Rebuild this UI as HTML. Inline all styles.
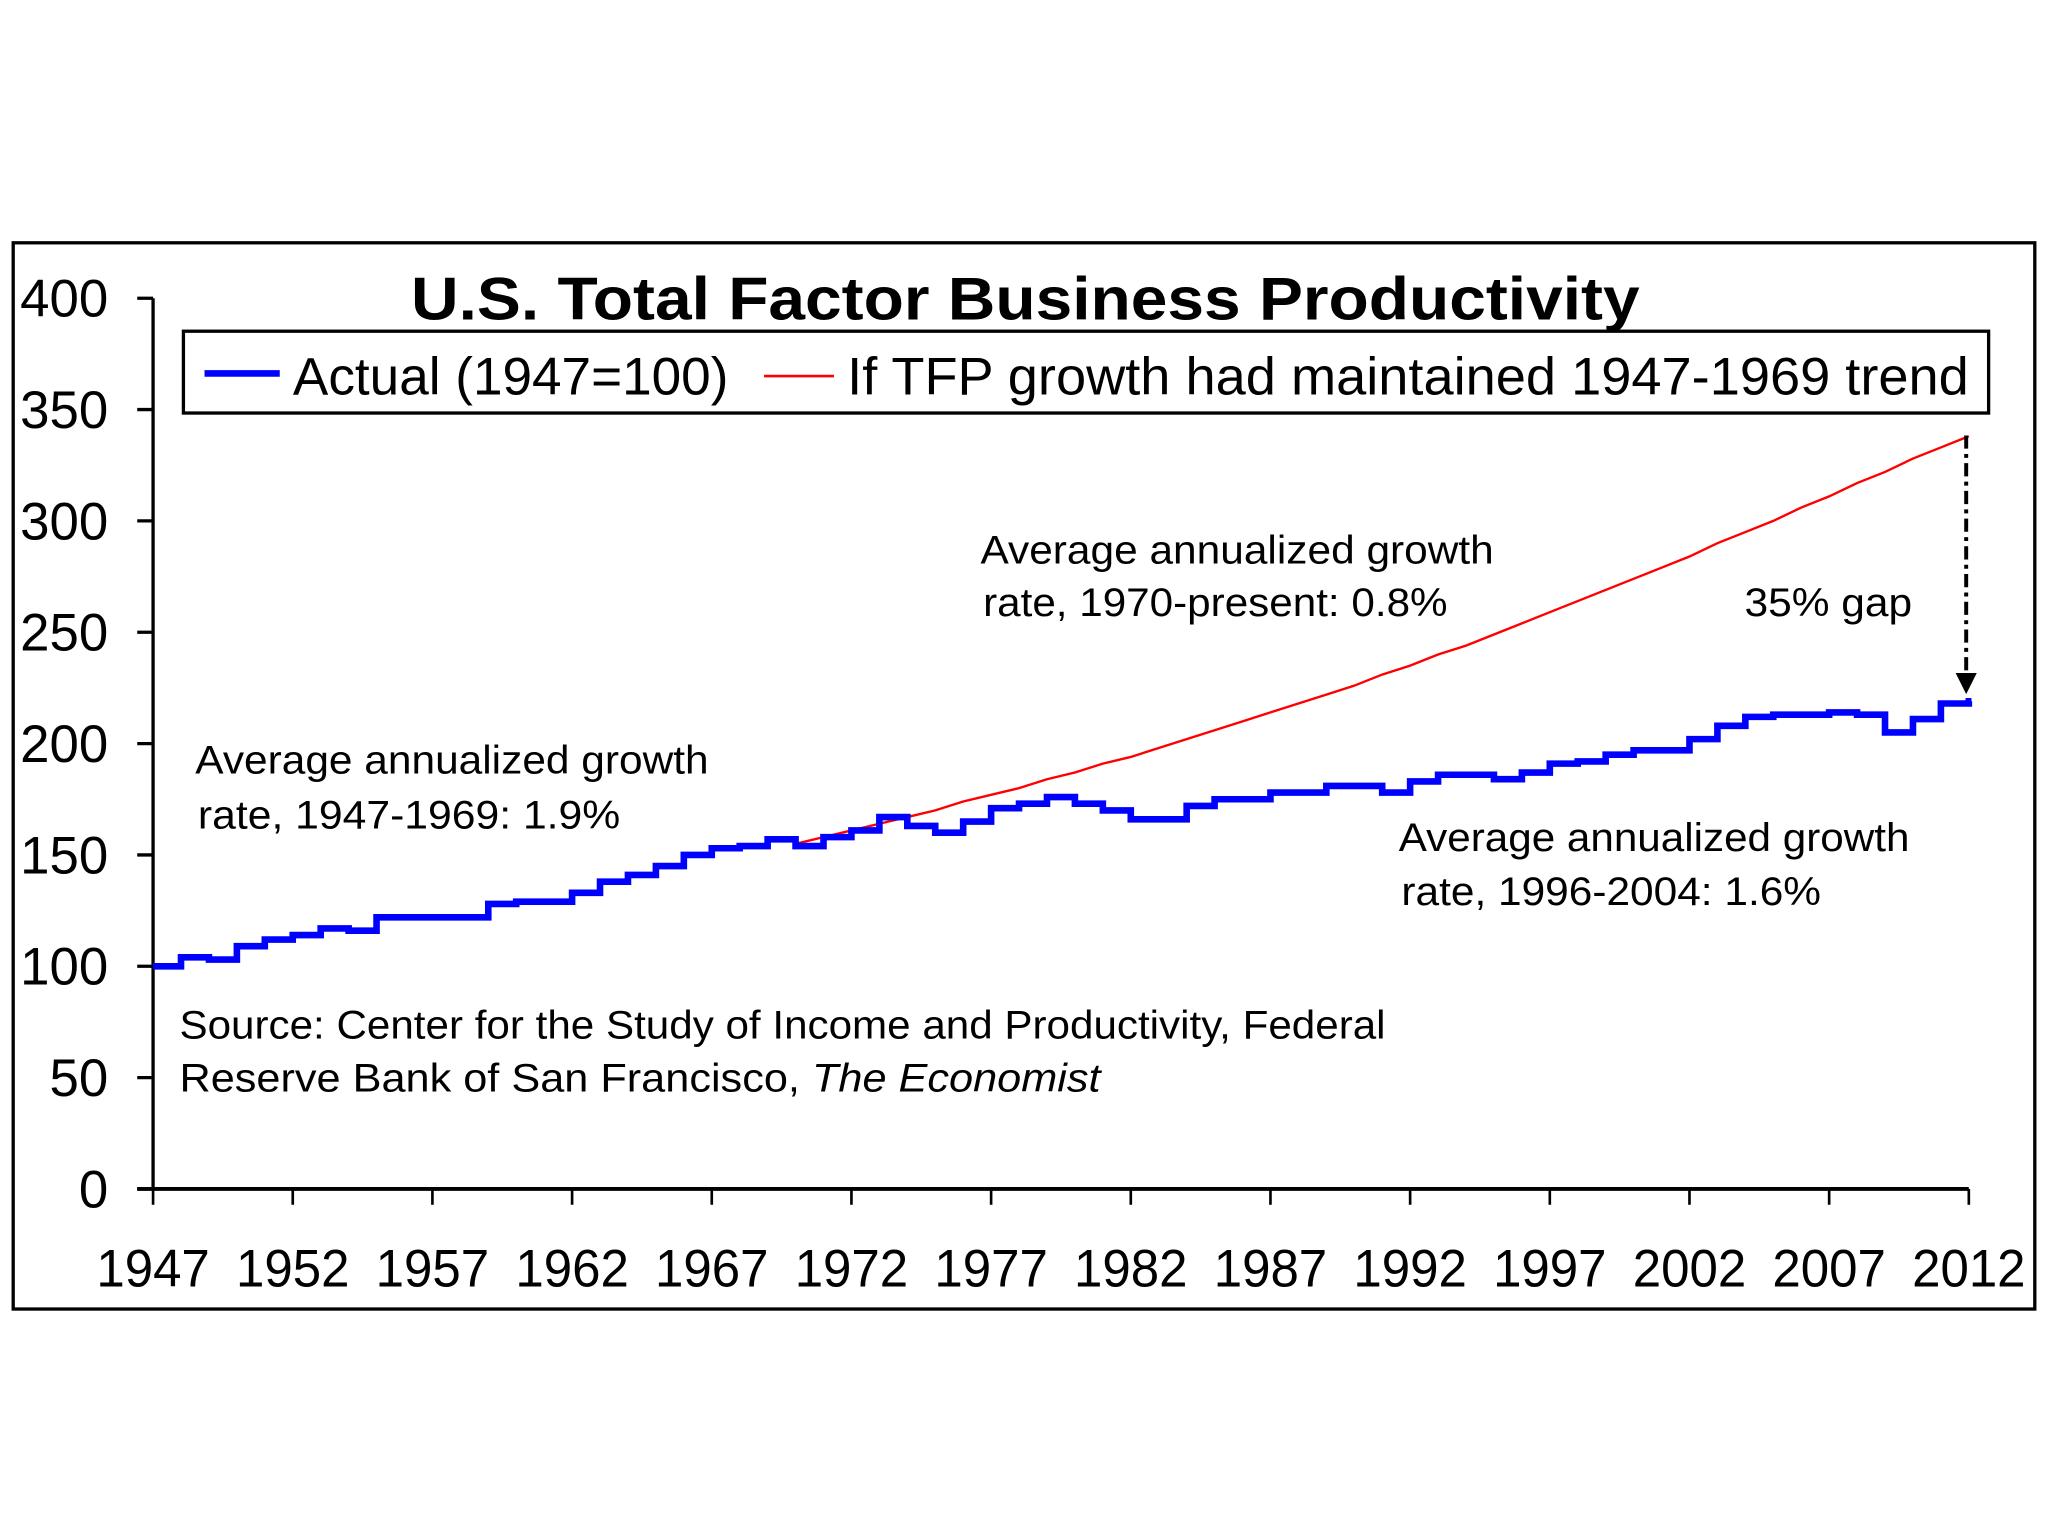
<!DOCTYPE html>
<html><head><meta charset="utf-8"><style>
html,body{margin:0;padding:0;background:#fff;}
svg{display:block;font-family:"Liberation Sans",Arial,sans-serif;}
</style></head><body>
<svg id="chart" width="2048" height="1536" viewBox="0 0 1552 1164">
<rect x="0" y="0" width="1552" height="1164" fill="#fff"/>
<rect x="10" y="184" width="1532" height="808" fill="#fff" stroke="#000" stroke-width="2.5"/>
<text x="777" y="242" text-anchor="middle" font-size="46" font-weight="bold" textLength="931" lengthAdjust="spacingAndGlyphs">U.S. Total Factor Business Productivity</text>
<g>
<rect x="139" y="251" width="1368" height="62" fill="#fff" stroke="#000" stroke-width="2.5"/>
<line x1="155" y1="283" x2="212" y2="283" stroke="#0000ff" stroke-width="5"/>
<text x="222" y="299" font-size="40" textLength="330" lengthAdjust="spacingAndGlyphs">Actual (1947=100)</text>
<line x1="579" y1="285" x2="632" y2="285" stroke="#ff0000" stroke-width="2"/>
<text x="642" y="299" font-size="40" textLength="850" lengthAdjust="spacingAndGlyphs">If TFP growth had maintained 1947-1969 trend</text>
</g>
<g id="axes"></g>
<g id="series"></g>
<g font-size="30">
<text x="743" y="427" textLength="389" lengthAdjust="spacingAndGlyphs">Average annualized growth</text>
<text x="745" y="467" textLength="352" lengthAdjust="spacingAndGlyphs">rate, 1970-present: 0.8%</text>
<text x="1322" y="467" textLength="127" lengthAdjust="spacingAndGlyphs">35% gap</text>
<text x="148" y="586" textLength="389" lengthAdjust="spacingAndGlyphs">Average annualized growth</text>
<text x="150" y="628" textLength="320" lengthAdjust="spacingAndGlyphs">rate, 1947-1969: 1.9%</text>
<text x="1060" y="645" textLength="387" lengthAdjust="spacingAndGlyphs">Average annualized growth</text>
<text x="1062" y="686" textLength="318" lengthAdjust="spacingAndGlyphs">rate, 1996-2004: 1.6%</text>
<text x="136" y="787" textLength="914" lengthAdjust="spacingAndGlyphs">Source: Center for the Study of Income and Productivity, Federal</text>
<text x="136" y="827" textLength="698" lengthAdjust="spacingAndGlyphs">Reserve Bank of San Francisco, <tspan font-style="italic">The Economist</tspan></text>
</g>
<g>
<line x1="1490" y1="330" x2="1490" y2="512" stroke="#000" stroke-width="3" stroke-dasharray="10,4,3,4"/>
<polygon points="1482,510 1498,510 1490,526" fill="#000"/>
</g>
</svg>
<script>
const yTicks = [0,50,100,150,200,250,300,350,400];
const xTickYears = [1947,1952,1957,1962,1967,1972,1977,1982,1987,1992,1997,2002,2007,2012];
const actualYears = [];
for (let y = 1947; y <= 2012; y++) actualYears.push(y);
const actualValues = [100,104,103,109,112,114,117,116,122,122,122,122,128,129,129,133,138,141,145,150,153,154,157,154,158,161,167,163,160,165,171,173,176,173,170,166,166,172,175,175,178,178,181,181,178,183,186,186,184,187,191,192,195,197,197,202,208,212,213,213,214,213,205,211,218,219];
const trendYears = [];
for (let y = 1970; y <= 2012; y++) trendYears.push(y);
const trendValues = [155,158,161,164,167,170,174,177,180,184,187,191,194,198,202,206,210,214,218,222,226,231,235,240,244,249,254,259,264,269,274,279,284,290,295,300,306,311,317,322,328,333,338];

const NS = "http://www.w3.org/2000/svg";
const X0 = 116, X1 = 1492, Y0 = 901, Y1 = 226;
const xs = yr => X0 + (yr - 1947) / (2012 - 1947) * (X1 - X0);
const ys = v => Y0 - v / 400 * (Y0 - Y1);
function mk(tag, attrs, parent) { const e = document.createElementNS(NS, tag); for (const k in attrs) e.setAttribute(k, attrs[k]); parent.appendChild(e); return e; }
const axes = document.getElementById('axes');
const yAxis = mk('line', {x1:X0, y1:Y1, x2:X0, y2:Y0, stroke:'#000', 'stroke-width':2.5}, axes);


const xAxis = mk('line', {x1:104, y1:Y0, x2:X1, y2:Y0, stroke:'#000', 'stroke-width':3}, axes);


yTicks.forEach(v => {
  const t = mk('line', {x1:104, y1:ys(v), x2:X0, y2:ys(v), stroke:'#000', 'stroke-width':2.5}, axes);
  
  
  const l = mk('text', {x:82, y:ys(v)+14, 'text-anchor':'end', 'font-size':40}, axes);
  l.textContent = v;
  
  
});
xTickYears.forEach(yr => {
  const t = mk('line', {x1:xs(yr), y1:Y0, x2:xs(yr), y2:913, stroke:'#000', 'stroke-width':2}, axes);
  
  
  const l = mk('text', {x:xs(yr), y:975, 'text-anchor':'middle', 'font-size':40, textLength:86, lengthAdjust:'spacingAndGlyphs'}, axes);
  l.textContent = yr;
  
  
});
const series = document.getElementById('series');
let d = '';
trendYears.forEach((yr, i) => { d += (i ? 'L' : 'M') + xs(yr) + ',' + ys(trendValues[i]); });
const red = mk('path', {d:d, fill:'none', stroke:'#ff0000', 'stroke-width':1.8}, series);


let d2 = '';
actualYears.forEach((yr, i) => {
  const x = xs(yr), y = ys(actualValues[i]);
  if (i === 0) d2 += 'M' + x + ',' + y;
  else d2 += 'L' + x + ',' + ys(actualValues[i-1]) + 'L' + x + ',' + y;
  if (i === actualValues.length - 1) d2 += 'L' + (x + 2) + ',' + y;
});
const blue = mk('path', {d:d2, fill:'none', stroke:'#0000ff', 'stroke-width':5, 'stroke-linejoin':'miter'}, series);


</script>
</body></html>
